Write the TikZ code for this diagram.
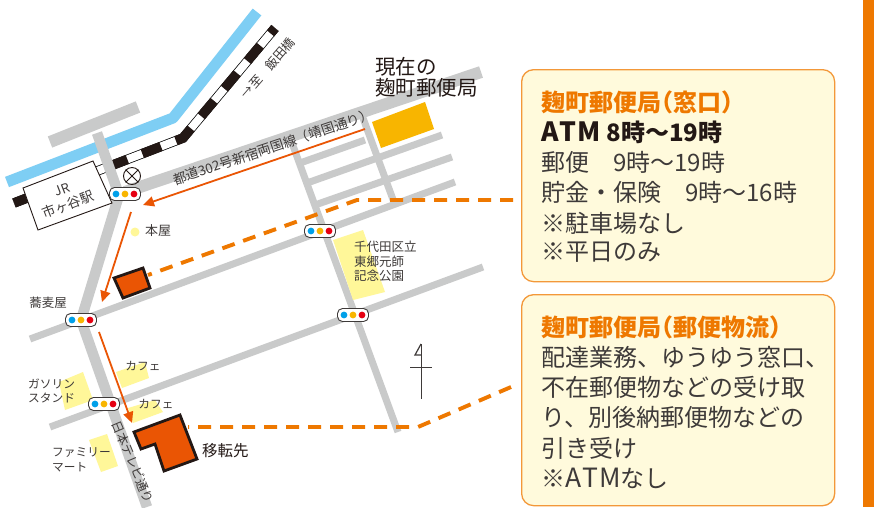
\documentclass[tikz,border=0pt]{standalone}
\usepackage{fontspec}
\setmainfont{Noto Sans CJK JP}
\definecolor{roadgray}{HTML}{C9CACA}
\definecolor{river}{HTML}{7ECEF4}
\definecolor{routeor}{HTML}{EA5504}
\definecolor{dashor}{HTML}{EE7800}
\definecolor{ink}{HTML}{3E3A39}
\definecolor{bld}{HTML}{231815}
\definecolor{ylw}{HTML}{FFF799}
\definecolor{cream}{HTML}{FFFADC}
\definecolor{boxline}{HTML}{F39839}
\definecolor{sigblue}{HTML}{00A0E9}
\definecolor{sigyel}{HTML}{F8B500}
\definecolor{sigred}{HTML}{E60012}
\tikzset{
  road/.style={draw=roadgray,line width=#1},
  road/.default=7,
  route/.style={draw=routeor,line width=1.8,-{Triangle[length=11,width=10]}},
  dashroute/.style={draw=dashor,line width=3.9,dash pattern=on 13 off 9},
  building/.style={draw=bld,line width=2.8,fill=routeor,line join=miter},
  yarea/.style={fill=ylw},
  lab/.style={text=ink,inner sep=0pt,font=\fontsize{#1}{#1}\selectfont},
  lab/.default=11,
  infobox/.style={draw=boxline,line width=1.3,fill=cream,rounded corners=12},
  infotext/.style={anchor=west,inner sep=0pt,text=ink,font=\fontsize{24}{24}\selectfont},
  title/.style={infotext,text=dashor,font=\fontsize{24}{24}\selectfont\bfseries},
  sigbox/.style={draw=ink,line width=0.9,fill=white,rounded corners=5,minimum width=31,minimum height=13,inner sep=0pt}
}
\newcommand{\sigdots}[1]{%
  \fill[sigblue] ($(#1)+(-9,0)$) circle (3.4);
  \fill[sigyel] (#1) circle (3.4);
  \fill[sigred] ($(#1)+(9,0)$) circle (3.4);
}
\newcommand{\wideatm}{{\fontsize{26.5}{26.5}\selectfont A\kern1pt T\kern1pt M}}
\usetikzlibrary{calc,arrows.meta}
\begin{document}
\begin{tikzpicture}[x=1pt,y=-1pt]
\useasboundingbox (0,0) rectangle (874,507);
\fill[white] (0,0) rectangle (874,507);
\fill[dashor] (863,0) rectangle (874,507);

% river
\draw[draw=river,line width=11,line join=round] (7,182) -- (173,118) -- (257,12);

% railway
\coordinate (railC) at (275,28);
\coordinate (railB) at (183,138);
\coordinate (railA) at (14,203);
\draw[black,line width=9.5] (railC) -- (railB) -- (railA);
\draw[white,line width=8] (railC) -- (railB) -- (railA);
\draw[bld,line width=9.5,dash pattern=on 20 off 16,dash phase=13] (railC) -- (railB) -- (railA);

% roads
\draw[road=12] (50,142) -- (138,107);
\draw[road=12] (125,192) -- (481,72);
\draw[road=10.5,line join=round] (97,133) -- (119,195) -- (81,320) -- (147,507);
\draw[road] (30,339) -- (455,182);
\draw[road] (50,427) -- (483,267);
\draw[road] (292,143) -- (398,432);
\draw[road] (363,118) -- (395,205);
\draw[road] (300,163) -- (365,140);
\draw[road] (307,183) -- (442,135);
\draw[road] (315,205) -- (452,157);

% yellow areas
\fill[yarea] (116,372) -- (145,362) -- (149,378) -- (122,388) -- cycle;
\fill[yarea] (59,382) -- (83,372) -- (93,400) -- (65,410) -- cycle;
\fill[yarea] (128,408) -- (155,400) -- (163,412) -- (133,423) -- cycle;
\fill[yarea] (89,440) -- (107,434) -- (118,466) -- (101,472) -- cycle;
\fill[yarea] (333,240) -- (363,230) -- (385,292) -- (353,300) -- cycle;
\fill[ylw] (135,232) circle (4.5);

% current office
\fill[sigyel] (372,122) -- (425,102) -- (434,129) -- (381,148) -- cycle;

% buildings
\draw[building] (114,278) -- (143,268) -- (150,288) -- (123,298) -- cycle;
\draw[building] (134,432) -- (180,415) -- (197,459) -- (164,471) -- (155,444) -- (141,449) -- cycle;

% JR box
\draw[bld,line width=0.9,fill=white] (23,188) -- (93,161) -- (112,203) -- (38,230) -- cycle;
\node[lab=13,rotate=21] (jr) at (62,189.5) {JR};
\node[lab=13.5,rotate=21] (jrname) at (68,204.5) {市ヶ谷駅};

% cross circle
\node[draw=bld,line width=0.9,circle,minimum size=17,inner sep=0pt] (cross) at (132,176) {};
\draw[bld,line width=0.9] (cross.45) -- (cross.225) (cross.135) -- (cross.315);

% signals
\node[sigbox] (s1) at (125,194) {}; \sigdots{s1}
\node[sigbox] (s2) at (81,320) {}; \sigdots{s2}
\node[sigbox] (s3) at (104,404) {}; \sigdots{s3}
\node[sigbox] (s4) at (320,231) {}; \sigdots{s4}
\node[sigbox] (s5) at (353,315) {}; \sigdots{s5}

% routes
\coordinate (r1a) at (365,129); \coordinate (r1b) at (143,205);
\coordinate (r2a) at (131,212); \coordinate (r2b) at (102,302);
\coordinate (r3a) at (99,332);  \coordinate (r3b) at (132,423);
\draw[route] (r1a) -- (r1b);
\draw[route] (r2a) -- (r2b);
\draw[route] (r3a) -- (r3b);

% info boxes
\node[infobox,anchor=north west,minimum width=313,minimum height=212,inner sep=0pt] (box1) at (521,69) {};
\node[infobox,anchor=north west,minimum width=313,minimum height=211,inner sep=0pt] (box2) at (521,294) {};

% dashed connectors
\coordinate (d0) at (513,200);
\coordinate (d1) at (357,200);
\coordinate (d2) at (148,275);
\coordinate (d5) at (511,387);
\coordinate (d3) at (418,427);
\coordinate (d4) at (188,427);
\draw[dashroute] (d0) -- (d1) -- (d2);
\draw[dashroute] (d5) -- (d3) -- (d4);

% map labels
\node[lab=20.5,anchor=west,text=bld] at (375,67) {現在の};
\node[lab=20.5,anchor=west,text=bld] at (375,88) {麹町郵便局};
\node[lab=13.4,rotate=18.5] at (273,147) {都道302号新宿両国線（靖国通り）};
\node[lab=12.5,rotate=49] at (268,68) {→至　飯田橋};
\node[lab=13] at (158,231) {本屋};
\node[lab=12.5] at (48,303) {蕎麦屋};
\node[lab=11.7] at (143,366) {カフェ};
\node[lab=11.7] at (156,404) {カフェ};
\node[lab=11.7,anchor=west] at (28,384) {ガソリン};
\node[lab=11.7,anchor=west] at (28,398) {スタンド};
\node[lab=11.7,anchor=west] at (52,453) {ファミリー};
\node[lab=11.7,anchor=west] at (52,467) {マート};
\node[lab=12.5,rotate=-67] at (133,462) {日本テレビ通り};
\node[lab=12.5,anchor=west] at (354,247) {千代田区立};
\node[lab=12.5,anchor=west] at (354,262) {東郷元師};
\node[lab=12.5,anchor=west] at (354,276) {記念公園};
\node[lab=15.5,anchor=west,text=bld] at (202,451) {移転先};

% north mark
\draw[ink,line width=1] (421,344) -- (421,399) (410,367) -- (432,367);
\draw[ink,line width=1.2,line join=miter] (421,344) -- (415,355) -- (421,355);

% box 1 text
\node[title] at (541,102) {麹町郵便局\kern-.5em（窓口）};
\node[infotext,text=bld,font=\fontsize{24}{24}\selectfont\bfseries] at (541,132) {\wideatm{} 8時〜19時};
\node[infotext] at (541,162) {郵便　9時〜19時};
\node[infotext] at (541,192) {貯金・保険　9時〜16時};
\node[infotext] at (541,223) {※駐車場なし};
\node[infotext] at (541,252) {※平日のみ};

% box 2 text
\node[title] at (541,327) {麹町郵便局\kern-.5em（郵便物流）};
\node[infotext] at (541,357) {配達業務、ゆうゆう窓口、};
\node[infotext] at (541,387) {不在郵便物などの受け取};
\node[infotext] at (541,417) {り、別後納郵便物などの};
\node[infotext] at (541,448) {引き受け};
\node[infotext] at (541,478) {※\wideatm{}なし};
\end{tikzpicture}
\end{document}
